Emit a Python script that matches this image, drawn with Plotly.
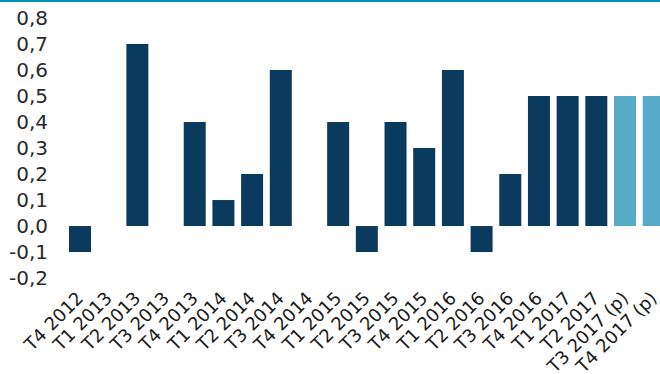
import plotly.graph_objects as go

categories = ["T4 2012", "T1 2013", "T2 2013", "T3 2013", "T4 2013", "T1 2014", "T2 2014",
              "T3 2014", "T4 2014", "T1 2015", "T2 2015", "T3 2015", "T4 2015", "T1 2016",
              "T2 2016", "T3 2016", "T4 2016", "T1 2017", "T2 2017", "T3 2017 (p)", "T4 2017 (p)"]
values = [-0.1, 0.0, 0.7, 0.0, 0.4, 0.1, 0.2, 0.6, 0.0, 0.4, -0.1, 0.4, 0.3, 0.6,
          -0.1, 0.2, 0.5, 0.5, 0.5, 0.5, 0.5]
projected = [False] * 19 + [True, True]

DARK = "#0b3a5f"
LIGHT = "#58abc8"
colors = [LIGHT if p else DARK for p in projected]

y_ticks = [-0.2, -0.1, 0.0, 0.1, 0.2, 0.3, 0.4, 0.5, 0.6, 0.7, 0.8]
y_ticktext = [f"{v:.1f}".replace(".", ",") for v in y_ticks]

fig = go.Figure(go.Bar(
    x=list(range(len(categories))), y=values,
    marker=dict(color=colors, line=dict(width=0)),
))

fig.update_layout(
    width=660, height=374,
    margin=dict(l=60, r=0, t=10, b=84),
    paper_bgcolor="white", plot_bgcolor="white",
    bargap=0.233,
    showlegend=False,
    font=dict(family="DejaVu Sans, sans-serif", size=19, color="#222"),
    xaxis=dict(
        tickmode="array", tickvals=list(range(len(categories))), ticktext=categories,
        tickangle=-45, range=[-0.697, 20.22], showgrid=False, zeroline=False,
        showline=False, ticks="", automargin=False, ticklabeloverflow="allow",
        ticklabelstandoff=-7, ticklabelshift=-2,
        tickfont=dict(size=18, color="#1a1a1a"),
    ),
    yaxis=dict(
        tickmode="array", tickvals=y_ticks, ticktext=y_ticktext,
        range=[-0.246, 0.8308], showgrid=False, zeroline=False, showline=False,
        ticks="", ticklabelstandoff=11, automargin=False,
        tickfont=dict(size=20, color="#2a2a2a"),
    ),
    shapes=[dict(type="line", xref="paper", yref="paper", x0=-0.1, x1=1,
                 y0=1 + 9/280, y1=1 + 9/280, line=dict(color="#0097b4", width=2))],
)

fig.write_html("out.html")
